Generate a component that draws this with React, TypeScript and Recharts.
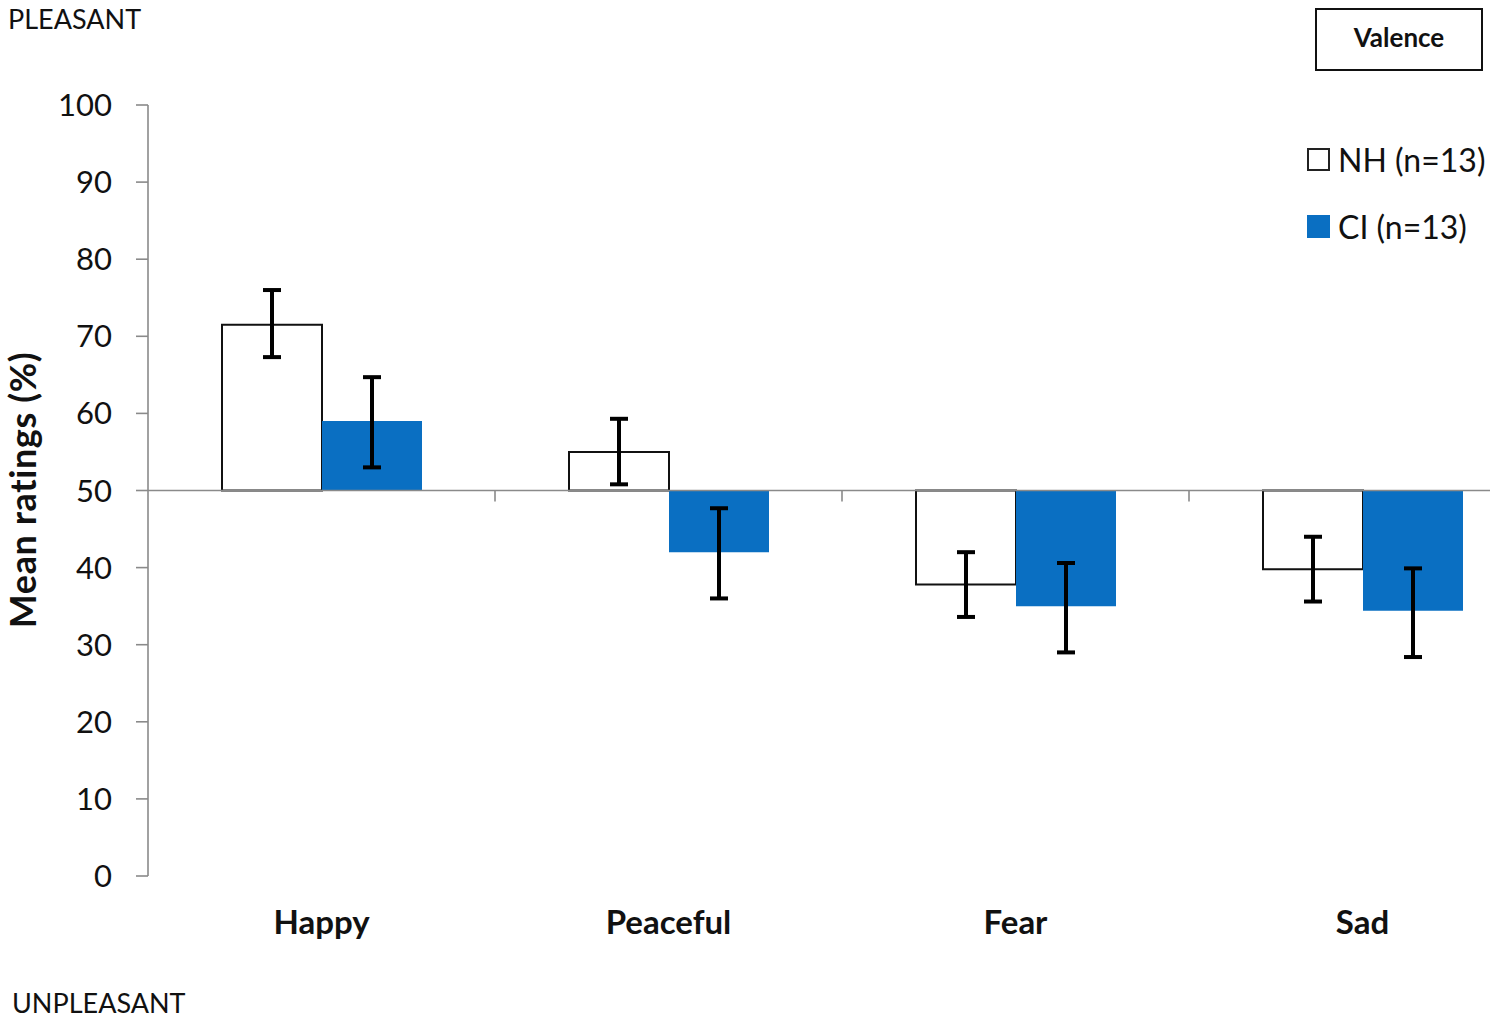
import React from 'react';
import {
  BarChart, Bar, XAxis, YAxis, ErrorBar, ReferenceLine, Legend,
} from 'recharts';

const categories = ['Happy', 'Peaceful', 'Fear', 'Sad'];
const nhMeans = [71.5, 55, 37.8, 39.8];
const nhLow = [67.3, 50.8, 33.6, 35.6];
const nhHigh = [76, 59.3, 42, 44];
const ciMeans = [59, 42, 35, 34.4];
const ciLow = [53, 36, 29, 28.4];
const ciHigh = [64.7, 47.7, 40.6, 39.9];
const yTicks = [0, 10, 20, 30, 40, 50, 60, 70, 80, 90, 100];
const seriesNames = ['NH (n=13)', 'CI (n=13)'];
const BASELINE = 50;

const data = categories.map((name, i) => ({
  name,
  nh: [BASELINE, nhMeans[i]],
  ci: [BASELINE, ciMeans[i]],
  nhErr: [nhMeans[i] - nhLow[i], nhHigh[i] - nhMeans[i]],
  ciErr: [ciMeans[i] - ciLow[i], ciHigh[i] - ciMeans[i]],
}));

const FONT = 'Lato, "Open Sans", sans-serif';
const AXIS_GREY = '#8a8a8a';
const CI_BLUE = '#0A6FC2';

// midline at 50 with tick marks at the category boundaries
function MidLine(props: any) {
  const { x1, y1, x2 } = props;
  const n = categories.length;
  const step = (x2 - x1) / n;
  return (
    <g>
      <line x1={x1} y1={y1} x2={x2} y2={y1} stroke={AXIS_GREY} strokeWidth={1.6} />
      {Array.from({ length: n }, (_, i) => (
        <line key={i} x1={x1 + step * (i + 1)} y1={y1} x2={x1 + step * (i + 1)} y2={y1 + 11} stroke={AXIS_GREY} strokeWidth={1.6} />
      ))}
    </g>
  );
}

function LegendBox({ payload }: any) {
  const items = [...(payload || [])].sort(
    (a: any, b: any) => seriesNames.indexOf(a.value) - seriesNames.indexOf(b.value),
  );
  return (
    <div style={{ fontFamily: FONT, fontSize: 32, color: '#111' }}>
      {items.map((p: any, i: number) => (
        <div key={i} style={{ display: 'flex', alignItems: 'center', height: 67 }}>
          <span
            style={{
              display: 'inline-block', width: 19, height: 19, marginRight: 8,
              background: p.color === '#ffffff' ? '#fff' : p.color,
              border: p.color === '#ffffff' ? '2px solid #222' : `2px solid ${p.color}`,
            }}
          />
          <span>{p.value}</span>
        </div>
      ))}
    </div>
  );
}

function YLabel() {
  return (
    <text x={36} y={490} transform="rotate(-90 36 490)" textAnchor="middle"
      style={{ fontFamily: FONT, fontSize: 36, fontWeight: 700, fill: '#111', letterSpacing: 0.6 }}>
      Mean ratings (%)
    </text>
  );
}

export default function App() {
  return (
    <div style={{ position: 'relative', width: 1490, height: 1019, overflow: 'hidden', background: '#fff' }}>
      <style>{'body{margin:0;overflow:hidden}'}</style>

      <BarChart
        width={1560}
        height={1019}
        data={data}
        margin={{ top: 105, right: 24, left: 60, bottom: 63 }}
        barCategoryGap={74}
        barGap={0}
      >
        <XAxis
          dataKey="name"
          axisLine={false}
          tickLine={false}
          tickSize={0}
          tickMargin={35}
          height={80}
          tick={{ fill: '#111', fontSize: 33, fontWeight: 700, fontFamily: FONT }}
        />
        <YAxis
          width={88}
          domain={[0, 100]}
          ticks={yTicks}
          interval={0}
          tickSize={12}
          tickMargin={24}
          axisLine={{ stroke: AXIS_GREY, strokeWidth: 1.6 }}
          tickLine={{ stroke: AXIS_GREY, strokeWidth: 1.6 }}
          tick={{ fill: '#111', fontSize: 31, fontFamily: FONT }}
          label={<YLabel />}
        />
        <Bar dataKey="nh" name={seriesNames[0]} fill="#ffffff" stroke="#111" strokeWidth={2} isAnimationActive={false}>
          <ErrorBar dataKey="nhErr" width={9} stroke="#000" strokeWidth={4} />
        </Bar>
        <Bar dataKey="ci" name={seriesNames[1]} fill={CI_BLUE} isAnimationActive={false}>
          <ErrorBar dataKey="ciErr" width={9} stroke="#000" strokeWidth={4} />
        </Bar>
        <ReferenceLine y={BASELINE} shape={MidLine} />
        <Legend
          layout="vertical"
          align="center"
          verticalAlign="middle"
          content={<LegendBox />}
          wrapperStyle={{ top: 126, left: 1307, width: 200 }}
        />
      </BarChart>

      <div style={{ position: 'absolute', left: 8, top: 4, fontFamily: FONT, fontSize: 27, lineHeight: 1.1, color: '#111' }}>
        PLEASANT
      </div>
      <div style={{ position: 'absolute', left: 12, top: 988, fontFamily: FONT, fontSize: 27, lineHeight: 1.1, color: '#111' }}>
        UNPLEASANT
      </div>
      <div
        style={{
          position: 'absolute', left: 1315, top: 8, width: 168, height: 63,
          border: '2px solid #111', display: 'flex', alignItems: 'center', justifyContent: 'center',
          fontFamily: FONT, fontSize: 26, fontWeight: 700, color: '#111', background: '#fff',
          paddingBottom: 6, boxSizing: 'border-box',
        }}
      >
        Valence
      </div>
    </div>
  );
}
